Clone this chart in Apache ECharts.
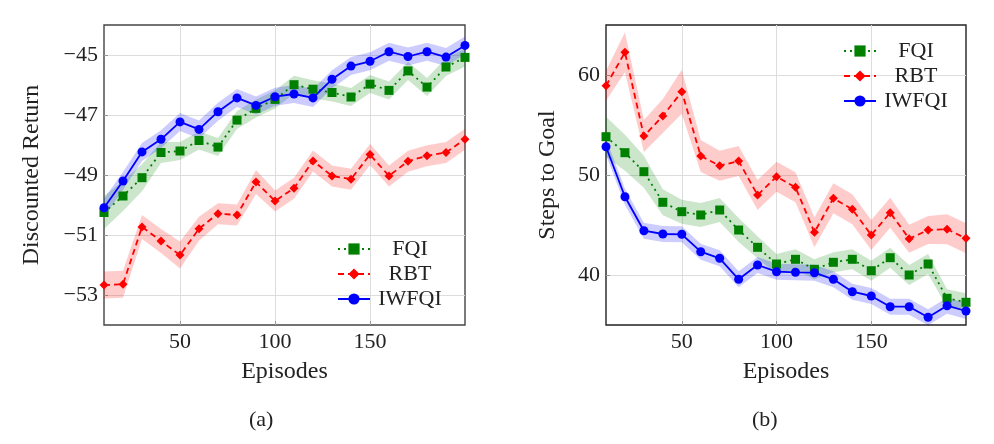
<!DOCTYPE html>
<html>
<head>
<meta charset="utf-8">
<script src="https://cdn.jsdelivr.net/npm/echarts@6/dist/echarts.min.js"></script>
<style>
  html, body { margin: 0; background: #fff; }
  #chart { width: 994px; height: 444px; }
</style>
</head>
<body>
<div id="chart"></div>
<script>
// episodes on the x axis
const episodes = [10, 20, 30, 40, 50, 60, 70, 80, 90, 100, 110, 120, 130, 140, 150, 160, 170, 180, 190, 200];

// (a) discounted return
const retFQI   = [-50.25, -49.7, -49.09, -48.25, -48.2, -47.85, -48.07, -47.17, -46.78, -46.48, -45.99, -46.14, -46.25, -46.4, -45.97, -46.18, -45.53, -46.07, -45.4, -45.08];
const retRBT   = [-52.67, -52.64, -50.73, -51.2, -51.67, -50.79, -50.29, -50.33, -49.23, -49.87, -49.44, -48.53, -49.03, -49.14, -48.32, -49.03, -48.54, -48.36, -48.25, -47.81];
const retIWFQI = [-50.09, -49.2, -48.23, -47.81, -47.23, -47.48, -46.89, -46.43, -46.68, -46.39, -46.3, -46.43, -45.81, -45.37, -45.21, -44.89, -45.05, -44.89, -45.07, -44.68];
// half widths of the shaded bands
const retFQIerr   = [0.55, 0.5, 0.45, 0.35, 0.3, 0.3, 0.3, 0.3, 0.3, 0.3, 0.3, 0.3, 0.3, 0.3, 0.3, 0.3, 0.3, 0.3, 0.3, 0.3];
const retRBTerr   = [0.45, 0.45, 0.4, 0.4, 0.45, 0.4, 0.35, 0.35, 0.4, 0.35, 0.35, 0.35, 0.35, 0.35, 0.35, 0.35, 0.35, 0.35, 0.35, 0.35];
const retIWFQIerr = [0.3, 0.3, 0.3, 0.3, 0.3, 0.3, 0.3, 0.3, 0.3, 0.3, 0.3, 0.3, 0.3, 0.3, 0.3, 0.3, 0.3, 0.3, 0.3, 0.3];

// (b) steps to goal
const stepFQI   = [53.83, 52.23, 50.33, 47.27, 46.33, 46.0, 46.5, 44.5, 42.77, 41.1, 41.57, 40.57, 41.27, 41.57, 40.43, 41.73, 40.0, 41.1, 37.67, 37.27];
const stepRBT   = [58.93, 62.27, 53.9, 55.9, 58.33, 51.9, 50.93, 51.4, 48.0, 49.83, 48.77, 44.27, 47.67, 46.57, 44.0, 46.23, 43.63, 44.5, 44.57, 43.67];
const stepIWFQI = [52.83, 47.83, 44.43, 44.1, 44.07, 42.33, 41.67, 39.57, 41.0, 40.33, 40.27, 40.23, 39.57, 38.33, 37.9, 36.83, 36.83, 35.77, 36.93, 36.4];
const stepFQIerr   = [2.0, 1.8, 1.6, 1.3, 1.2, 1.2, 1.2, 1.2, 1.1, 1.0, 1.0, 1.0, 1.0, 1.0, 1.0, 1.0, 1.0, 1.0, 0.9, 0.9];
const stepRBTerr   = [1.5, 2.0, 1.6, 1.7, 2.2, 1.6, 1.5, 1.5, 1.5, 1.5, 1.5, 1.5, 1.5, 1.5, 1.5, 1.5, 1.4, 1.4, 1.5, 1.5];
const stepIWFQIerr = [0.8, 0.8, 0.8, 0.8, 0.8, 0.8, 0.8, 0.8, 0.8, 0.8, 0.8, 0.8, 0.8, 0.8, 0.8, 0.8, 0.8, 0.8, 0.8, 0.8];

// tick labels
const xTicks = [50, 100, 150];
const retTicks = [-53, -51, -49, -47, -45];
const stepTicks = [40, 50, 60];

const chart = echarts.init(document.getElementById("chart"));

const font = "Liberation Serif";
const blue = "#0000ff";
const green = "#008000";
const red = "#ff0000";

// shaded band = invisible lower line + stacked difference area
const band = (idx, mean, err, color, key) => [
  {
    type: "line", xAxisIndex: idx, yAxisIndex: idx, stack: key, stackStrategy: "all", z: 1,
    data: mean.map((m, i) => m - err[i]),
    symbol: "none", lineStyle: { opacity: 0 }, silent: true,
  },
  {
    type: "line", xAxisIndex: idx, yAxisIndex: idx, stack: key, stackStrategy: "all", z: 1,
    data: err.map((e) => 2 * e),
    symbol: "none", lineStyle: { opacity: 0 }, silent: true,
    areaStyle: { color: color, opacity: 1 },
  },
];

const mainLine = (idx, name, vals, color, symbol, size, dash) => ({
  type: "line", name: name, xAxisIndex: idx, yAxisIndex: idx, z: 3,
  data: vals,
  symbol: symbol, symbolSize: size,
  itemStyle: { color: color },
  lineStyle: { color: color, width: 1.8, type: dash },
});

const onTick = (i, v) => xTicks.includes(Number(v));

const xAxis = (idx) => ({
  gridIndex: idx, type: "category", data: episodes.map(String), boundaryGap: false,
  name: "Episodes", nameLocation: "middle", nameGap: 35,
  nameTextStyle: { fontFamily: font, fontSize: 24, color: "#222" },
  axisLine: { show: false },
  axisTick: { show: true, inside: true, length: 4, interval: onTick, lineStyle: { color: "#999" } },
  axisLabel: { fontFamily: font, fontSize: 22, color: "#222", margin: 6, interval: onTick },
  splitLine: { show: true, interval: onTick, lineStyle: { color: "#dddddd", width: 1 } },
});

const yAxis = (idx, name, min, max, ticks, gap) => ({
  gridIndex: idx, type: "value", min: min, max: max,
  name: name, nameLocation: "middle", nameGap: gap,
  nameTextStyle: { fontFamily: font, fontSize: 24, color: "#222" },
  axisLine: { show: false },
  axisTick: { show: true, inside: true, length: 4, lineStyle: { color: "#999" }, customValues: ticks },
  axisLabel: {
    fontFamily: font, fontSize: 22, color: "#222", margin: 6, customValues: ticks,
    formatter: (v) => (v < 0 ? "\u2212" + Math.abs(v) : String(v)),
  },
  splitLine: { show: true, lineStyle: { color: "#dddddd", width: 1 } },
});

const legend = (left, top) => ({
  orient: "vertical", left: left, top: top,
  itemWidth: 32, itemHeight: 14, itemGap: 3,
  data: ["FQI", "RBT", "IWFQI"],
  formatter: (n) => "{c|" + n + "}",
  textStyle: {
    fontFamily: font, fontSize: 22, color: "#222",
    rich: { c: { width: 70, lineHeight: 25, align: "center", fontFamily: font, fontSize: 22, color: "#222" } },
  },
  selectedMode: false,
});

const option = {
  animation: false,
  backgroundColor: "#fff",
  grid: [
    { left: 104, top: 25, width: 361, height: 300, show: true, borderColor: "#444", borderWidth: 1.4, backgroundColor: "transparent" },
    { left: 606, top: 25, width: 360, height: 300, show: true, borderColor: "#222", borderWidth: 1.4, backgroundColor: "transparent" },
  ],
  xAxis: [xAxis(0), xAxis(1)],
  yAxis: [
    yAxis(0, "Discounted Return", -54, -44, retTicks, 60),
    yAxis(1, "Steps to Goal", 35, 65, stepTicks, 46),
  ],
  legend: [legend(332, 233), legend(838, 35)],
  graphic: [
    { type: "text", left: 249, top: 409, style: { text: "(a)", font: "22px " + font, fill: "#222" } },
    { type: "text", left: 752, top: 409, style: { text: "(b)", font: "22px " + font, fill: "#222" } },
  ],
  series: [
    ...band(0, retFQI, retFQIerr, "rgba(0,128,0,0.2)", "a1"),
    ...band(0, retRBT, retRBTerr, "rgba(255,0,0,0.2)", "a2"),
    ...band(0, retIWFQI, retIWFQIerr, "rgba(0,0,255,0.2)", "a3"),
    ...band(1, stepFQI, stepFQIerr, "rgba(0,128,0,0.2)", "b1"),
    ...band(1, stepRBT, stepRBTerr, "rgba(255,0,0,0.2)", "b2"),
    ...band(1, stepIWFQI, stepIWFQIerr, "rgba(0,0,255,0.2)", "b3"),
    mainLine(0, "FQI", retFQI, green, "rect", 9, [2, 4]),
    mainLine(0, "RBT", retRBT, red, "diamond", 9, [6, 4]),
    mainLine(0, "IWFQI", retIWFQI, blue, "circle", 9, "solid"),
    mainLine(1, "FQI", stepFQI, green, "rect", 9, [2, 4]),
    mainLine(1, "RBT", stepRBT, red, "diamond", 9, [6, 4]),
    mainLine(1, "IWFQI", stepIWFQI, blue, "circle", 9, "solid"),
  ],
};

chart.setOption(option);
</script>
</body>
</html>
